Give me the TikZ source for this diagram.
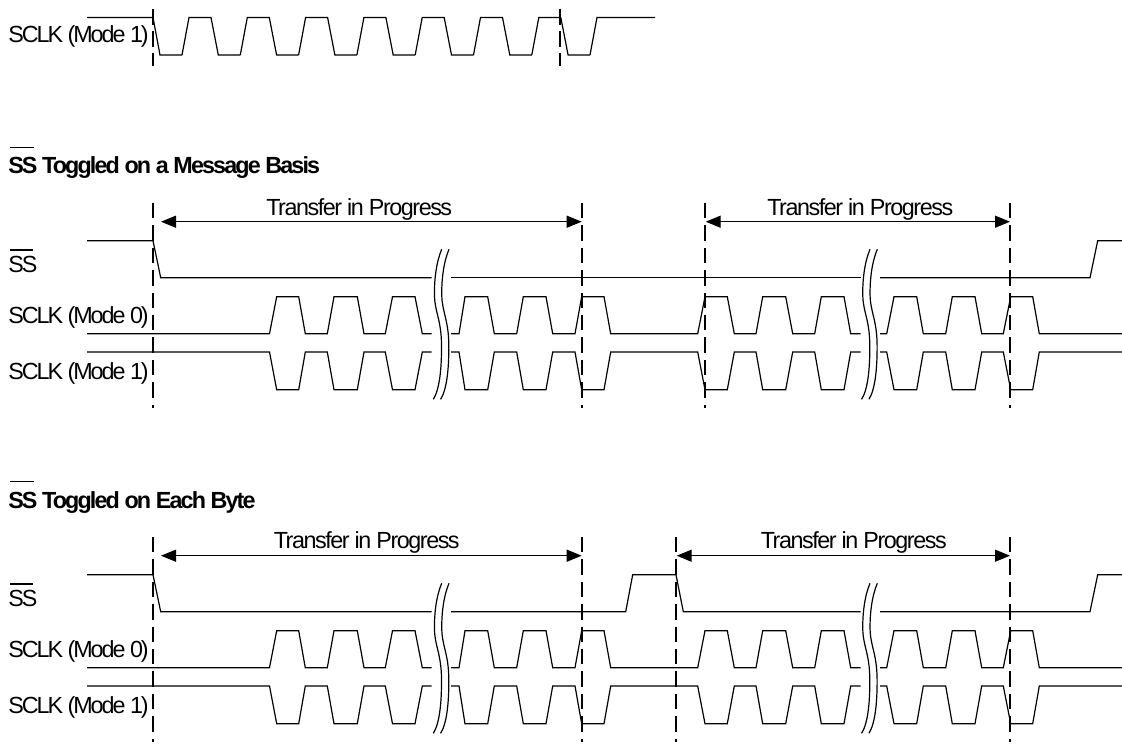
\documentclass[tikz,border=0pt]{standalone}
\usepackage{fontspec}
\usetikzlibrary{arrows.meta}

\newfontfamily\wavefont[LetterSpace=-8.7]{Liberation Sans}
\newfontfamily\xferfont[LetterSpace=-6.2]{Liberation Sans}
\newfontfamily\wavebold[LetterSpace=-8]{Liberation Sans Bold}

\tikzset{
  sig/.style={line width=0.9pt, line join=miter},
  barline/.style={line width=0.9pt},
  marker/.style={line width=1.5pt, dash pattern=on 11.6pt off 5.2pt},
  xfer/.style={line width=0.9pt, {Triangle[length=11.25pt,width=9pt]}-{Triangle[length=11.25pt,width=9pt]}},
  siglabel/.style={anchor=base west, inner sep=0pt, font=\wavefont\fontsize{17.5}{19}\selectfont},
  xferlabel/.style={anchor=base west, inner sep=0pt, font=\xferfont\fontsize{17.5}{19}\selectfont},
  headlabel/.style={anchor=base west, inner sep=0pt, font=\wavebold\fontsize{17.5}{19}\selectfont}
}

% Clock traces share their edges: #1 is the idle level, #2 the other one
\newcommand{\clockwave}[2]{
  \draw[sig] (87,#1) -- (269.5,#1) -- (276.7,#2) -- (298.7,#2) -- (305.3,#1) -- (327.3,#1)
    -- (334,#2) -- (357.3,#2) -- (364,#1) -- (385.3,#1) -- (392.5,#2) -- (415,#2)
    -- (422.3,#1) -- (431.7,#1);
  \draw[sig] (451,#1) -- (459,#1) -- (465,#2) -- (487.7,#2) -- (494.3,#1) -- (516.7,#1)
    -- (523.3,#2) -- (546,#2) -- (552.7,#1) -- (575,#1) -- (581.7,#2) -- (604,#2)
    -- (610.7,#1) -- (697.7,#1) -- (705,#2) -- (727.3,#2) -- (734.3,#1) -- (756,#1)
    -- (762.7,#2) -- (785.7,#2) -- (792.7,#1) -- (814.7,#1) -- (821.3,#2) -- (844,#2)
    -- (850.7,#1) -- (860.7,#1);
  \draw[sig] (880,#1) -- (886.7,#1) -- (894,#2) -- (916.7,#2) -- (923.3,#1) -- (945.7,#1)
    -- (952.3,#2) -- (975,#2) -- (981.7,#1) -- (1003.3,#1) -- (1010.7,#2) -- (1032.7,#2)
    -- (1039.3,#1) -- (1122,#1);
}

% Wavy cut through all the traces, #1 is its left edge
\newcommand{\cutmark}[1]{
  \foreach \d in {0,7.3} {
    \draw[barline] (#1+8.4+\d,249.3) .. controls (#1+3+\d,262) and (#1+0.8+\d,280) .. (#1+1.2+\d,296)
      .. controls (#1+1.6+\d,312) and (#1+8+\d,320) .. (#1+8.2+\d,345)
      .. controls (#1+8.4+\d,370) and (#1+6+\d,390) .. (#1+\d,399.3);
  }
}

\begin{document}
\begin{tikzpicture}[x=0.75pt, y=-0.75pt]

  \useasboundingbox (0,0) rectangle (1122,744);

  % Single clock at the top
  \node[siglabel] (topclk) at (8,42.7) {SCLK (Mode 1)};
  \draw[sig] (87,17.5) -- (153,17.5) -- (160,55) -- (182,55);
  \foreach \x in {182,240.3,298.6,356.9,415.2,473.5,531.8} {
    \draw[sig] (\x,55) -- ++(7,-37.5) -- ++(22,0) -- ++(7.3,37.5) -- ++(22,0);
  }
  \draw[sig] (590,55) -- (597,17.5) -- (655,17.5);
  \foreach \x in {153,560} {
    \draw[line width=1.5pt, dash pattern=on 12pt off 4.8pt, dash phase=15.6pt] (\x,7) -- (\x,65.5);
  }

  % Message basis
  \node[headlabel] (msghead) at (8,173.5) {SS Toggled on a Message Basis};
  \draw[barline] (10,147.7) -- (34,147.7);

  \foreach \x in {153,581.7,705,1010.3} {
    \draw[marker] (\x,203) -- (\x,408);
  }

  \coordinate (msga) at (161,221.7);
  \coordinate (msgb) at (581.7,221.7);
  \coordinate (msgc) at (705.7,221.7);
  \coordinate (msgd) at (1010,221.7);
  \draw[xfer] (msga) -- (msgb);
  \draw[xfer] (msgc) -- (msgd);
  \node[xferlabel] (msgta) at (266,215) {Transfer in Progress};
  \node[xferlabel] (msgtb) at (767,215) {Transfer in Progress};

  \node[siglabel] (msgss) at (8,272.7) {SS};
  \draw[barline] (10,250) -- (33,250);
  \draw[sig] (87,240.7) -- (153,240.7) -- (160.7,277.7) -- (431.7,277.7);
  \draw[sig] (451,277.7) -- (860.7,277.7);
  \draw[sig] (880,277.7) -- (1090,277.7) -- (1097.7,240.7) -- (1122,240.7);

  \node[siglabel] (msgzero) at (8,323.3) {SCLK (Mode 0)};
  \node[siglabel] (msgone) at (8,379) {SCLK (Mode 1)};
  \clockwave{333.7}{296.7}
  \clockwave{352}{389.7}

  \cutmark{433.3}
  \cutmark{861.6}

  % Each byte
  \begin{scope}[shift={(0,334)}]
    \node[headlabel] (bytehead) at (8,174.3) {SS Toggled on Each Byte};
    \draw[barline] (10,147.7) -- (34,147.7);

    \foreach \x in {153,581.7,676,1010.3} {
      \draw[marker] (\x,203) -- (\x,408);
    }

    \coordinate (bytea) at (161,221.7);
    \coordinate (byteb) at (581.7,221.7);
    \coordinate (bytec) at (676.7,221.7);
    \coordinate (byted) at (1010,221.7);
    \draw[xfer] (bytea) -- (byteb);
    \draw[xfer] (bytec) -- (byted);
    \node[xferlabel] (byteta) at (273.5,214.3) {Transfer in Progress};
    \node[xferlabel] (bytetb) at (760.5,214.3) {Transfer in Progress};

    \node[siglabel] (bytess) at (8,272.7) {SS};
    \draw[barline] (10,250) -- (33,250);
    \draw[sig] (87,240.7) -- (153,240.7) -- (160.7,277.7) -- (431.7,277.7);
    \draw[sig] (451,277.7) -- (625.7,277.7) -- (632.7,240.7) -- (676,240.7) -- (683.3,277.7) -- (860.7,277.7);
    \draw[sig] (880,277.7) -- (1090,277.7) -- (1097.7,240.7) -- (1122,240.7);

    \node[siglabel] (bytezero) at (8,323.3) {SCLK (Mode 0)};
    \node[siglabel] (byteone) at (8,379) {SCLK (Mode 1)};
    \clockwave{333.7}{296.7}
    \clockwave{352}{389.7}

    \cutmark{433.3}
    \cutmark{861.6}
  \end{scope}

\end{tikzpicture}
\end{document}
